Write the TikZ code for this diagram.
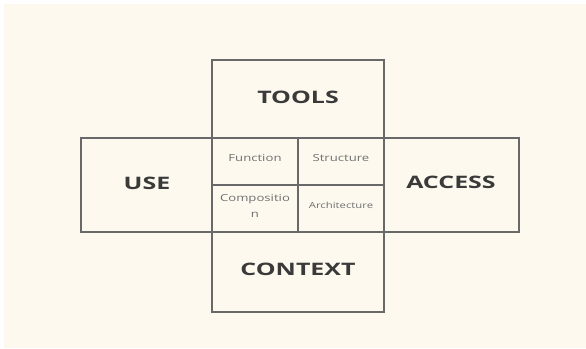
\documentclass[tikz,border=0pt]{standalone}
\usepackage{fontspec}
\setmainfont{Open Sans}
\definecolor{paper}{RGB}{253,249,238}
\definecolor{frame}{RGB}{105,105,105}
\definecolor{ink}{RGB}{58,58,58}
\definecolor{softink}{RGB}{112,112,112}
\tikzset{every picture/.style={line width=0.75pt}}
\tikzset{
  cell/.style={draw=frame, line width=1pt},
  bigword/.style={text=ink, font=\bfseries\fontsize{12.9}{14}\selectfont, xscale=1.45},
  smallword/.style={text=softink, font=\fontsize{7.3}{9}\selectfont, xscale=1.35},
  tinyword/.style={text=softink, font=\fontsize{6.3}{8}\selectfont, xscale=1.35}
}

\begin{document}
\begin{tikzpicture}[x=0.75pt,y=0.75pt,yscale=-1,xscale=1]
%set diagram size to 586 x 349
\useasboundingbox (0,0) rectangle (586,349);
\fill [paper] (4,4) rectangle (586,348);

%Shape: Rectangle [id:tools]
\draw [cell] (212,60) rectangle (384,138);
%Shape: Rectangle [id:use]
\draw [cell] (81,138) rectangle (212,232);
%Shape: Rectangle [id:access]
\draw [cell] (384,138) rectangle (519,232);
%Shape: Rectangle [id:core]
\draw [cell] (212,138) rectangle (384,232);
%Shape: Rectangle [id:context]
\draw [cell] (212,232) rectangle (384,312);
%Straight Lines [id:split]
\draw [cell] (298,138) -- (298,232) ;
%Straight Lines [id:middle]
\draw [cell] (212,185) -- (384,185) ;

% Text Node
\node (tools) at (298,97) [bigword] {TOOLS};
% Text Node
\node (use) at (147,183) [bigword] {USE};
% Text Node
\node (access) at (451,182) [bigword] {ACCESS};
% Text Node
\node (context) at (298,269) [bigword] {CONTEXT};
% Text Node
\node (function) at (255,158) [smallword] {Function};
% Text Node
\node (structure) at (341,158) [smallword] {Structure};
% Text Node
\node (composition) at (255,206) [smallword, align=center, font=\fontsize{7.3}{11.5}\selectfont] {Compositio\\n};
% Text Node
\node (architecture) at (341,205.5) [tinyword] {Architecture};

\end{tikzpicture}
\end{document}
